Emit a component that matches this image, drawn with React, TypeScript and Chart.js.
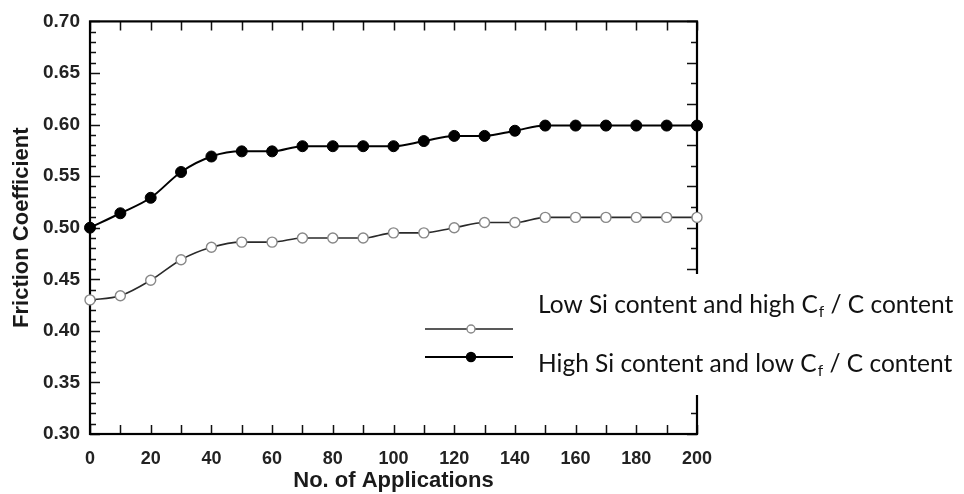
import React, { useEffect, useRef } from "react";
import { Chart, registerables } from "chart.js";

Chart.register(...registerables);

const applications = [0, 10, 20, 30, 40, 50, 60, 70, 80, 90, 100, 110, 120, 130, 140, 150, 160, 170, 180, 190, 200];
const highSiLowCf = [0.5, 0.514, 0.529, 0.554, 0.569, 0.574, 0.574, 0.579, 0.579, 0.579, 0.579, 0.584, 0.589, 0.589, 0.594, 0.599, 0.599, 0.599, 0.599, 0.599, 0.599];
const lowSiHighCf = [0.43, 0.434, 0.449, 0.469, 0.481, 0.486, 0.486, 0.49, 0.49, 0.49, 0.495, 0.495, 0.5, 0.505, 0.505, 0.51, 0.51, 0.51, 0.51, 0.51, 0.51];

const xTitle = "No. of Applications";
const yTitle = "Friction Coefficient";
const legendLow = ["Low Si content and high C", "f", " / C content"];
const legendHigh = ["High Si content and low C", "f", " / C content"];

const X_MIN = 0;
const X_MAX = 200;
const Y_MIN = 0.3;
const Y_MAX = 0.7;

const AXIS_FONT = "'Liberation Sans', Arial, sans-serif";
const LEGEND_FONT = "Lato, 'Open Sans', sans-serif";

const framePlugin = {
  id: "frame",
  beforeDatasetsDraw(chart: any) {
    const { ctx, chartArea: a, scales } = chart;
    const xs = scales.x;
    const ys = scales.y;
    ctx.save();
    ctx.strokeStyle = "#111";
    ctx.lineWidth = 1.5;
    ctx.beginPath();
    for (let v = X_MIN; v <= X_MAX; v += 10) {
      const x = Math.round(xs.getPixelForValue(v)) + 0.5;
      ctx.moveTo(x, a.bottom);
      ctx.lineTo(x, a.bottom - 9);
      ctx.moveTo(x, a.top);
      ctx.lineTo(x, a.top + 9);
    }
    for (let k = 0; k <= 40; k++) {
      const v = Y_MIN + k * 0.01;
      const y = Math.round(ys.getPixelForValue(v)) + 0.5;
      const len = k % 5 === 0 ? 10 : 6;
      ctx.moveTo(a.left, y);
      ctx.lineTo(a.left + len, y);
    }
    for (let k = 0; k <= 20; k++) {
      const v = Y_MAX - k * 0.02;
      const y = Math.round(ys.getPixelForValue(v)) + 0.5;
      const len = k % 2 === 0 ? 10 : 6;
      ctx.moveTo(a.right, y);
      ctx.lineTo(a.right - len, y);
    }
    ctx.stroke();
    ctx.lineWidth = 2.2;
    ctx.strokeStyle = "#000";
    ctx.strokeRect(a.left, a.top, a.right - a.left, a.bottom - a.top);
    ctx.restore();
  },
  afterDraw(chart: any) {
    const { ctx } = chart;
    ctx.save();
    const boxTop = 274;
    const boxBottom = 395;
    ctx.fillStyle = "#fff";
    ctx.fillRect(412, boxTop, chart.width - 412, boxBottom - boxTop);

    const lineX0 = 425;
    const lineX1 = 513;
    const markX = 471;
    const rows = [
      { y: 329, text: legendLow, filled: false, textY: 313 },
      { y: 357, text: legendHigh, filled: true, textY: 372 },
    ];
    const size = 24.5;
    const subSize = 15.5;
    for (const r of rows) {
      ctx.beginPath();
      ctx.strokeStyle = r.filled ? "#000" : "#222";
      ctx.lineWidth = r.filled ? 2 : 1.6;
      ctx.moveTo(lineX0, r.y);
      ctx.lineTo(lineX1, r.y);
      ctx.stroke();
      ctx.beginPath();
      ctx.arc(markX, r.y, r.filled ? 4.5 : 4, 0, Math.PI * 2);
      ctx.fillStyle = r.filled ? "#000" : "#fff";
      ctx.fill();
      ctx.lineWidth = 1.4;
      ctx.strokeStyle = r.filled ? "#000" : "#888";
      ctx.stroke();

      let tx = 538;
      ctx.fillStyle = "#111";
      ctx.textBaseline = "alphabetic";
      ctx.textAlign = "left";
      ctx.font = `${size}px ${LEGEND_FONT}`;
      ctx.fillText(r.text[0], tx, r.textY);
      tx += ctx.measureText(r.text[0]).width + 1;
      ctx.font = `${subSize}px ${LEGEND_FONT}`;
      ctx.fillText(r.text[1], tx, r.textY + 4);
      tx += ctx.measureText(r.text[1]).width;
      ctx.font = `${size}px ${LEGEND_FONT}`;
      ctx.fillText(r.text[2], tx, r.textY);
    }
    ctx.restore();
  },
};

export default function App() {
  const ref = useRef<HTMLCanvasElement | null>(null);
  useEffect(() => {
    document.body.style.margin = "0";
    const canvas = ref.current;
    if (!canvas) return;
    const chart = new Chart(canvas, {
      type: "line",
      data: {
        labels: applications,
        datasets: [
          {
            label: "Low Si content and high Cf / C content",
            data: applications.map((x, i) => ({ x, y: lowSiHighCf[i] })),
            borderColor: "#2a2a2a",
            borderWidth: 1.6,
            pointRadius: 5,
            pointBorderWidth: 1.4,
            pointBackgroundColor: "#fff",
            pointBorderColor: "#888",
            cubicInterpolationMode: "monotone",
            clip: false,
          },
          {
            label: "High Si content and low Cf / C content",
            data: applications.map((x, i) => ({ x, y: highSiLowCf[i] })),
            borderColor: "#000",
            borderWidth: 2,
            pointRadius: 5.5,
            pointBorderWidth: 1,
            pointBackgroundColor: "#000",
            pointBorderColor: "#000",
            cubicInterpolationMode: "monotone",
            clip: false,
          },
        ],
      },
      options: {
        responsive: false,
        animation: false,
        devicePixelRatio: 1,
        layout: { padding: { left: 0, right: 267, top: 15, bottom: 0 } },
        plugins: { legend: { display: false }, tooltip: { enabled: false } },
        scales: {
          x: {
            type: "linear",
            min: X_MIN,
            max: X_MAX,
            afterFit: (s: any) => {
              s.height = 60;
            },
            ticks: {
              stepSize: 20,
              autoSkip: false,
              maxRotation: 0,
              padding: 14,
              color: "#222",
              font: { family: AXIS_FONT, size: 18, weight: "bold" },
            },
            grid: { display: false, drawTicks: false },
            border: { display: false },
            title: {
              display: true,
              text: xTitle,
              color: "#1a1a1a",
              font: { family: AXIS_FONT, size: 22, weight: "bold" },
              padding: { top: 0, bottom: 0 },
            },
          },
          y: {
            type: "linear",
            min: Y_MIN,
            max: Y_MAX,
            afterFit: (s: any) => {
              s.width = 90;
            },
            ticks: {
              stepSize: 0.05,
              padding: 10,
              color: "#222",
              font: { family: AXIS_FONT, size: 19, weight: "bold" },
              callback: (v: any) => Number(v).toFixed(2),
            },
            grid: { display: false, drawTicks: false },
            border: { display: false },
            title: {
              display: true,
              text: yTitle,
              color: "#1a1a1a",
              font: { family: AXIS_FONT, size: 22, weight: "bold" },
              padding: { top: 9, bottom: 0 },
            },
          },
        },
      },
      plugins: [framePlugin],
    } as any);
    return () => chart.destroy();
  }, []);
  return <canvas ref={ref} width={964} height={494} style={{ display: "block" }} />;
}
